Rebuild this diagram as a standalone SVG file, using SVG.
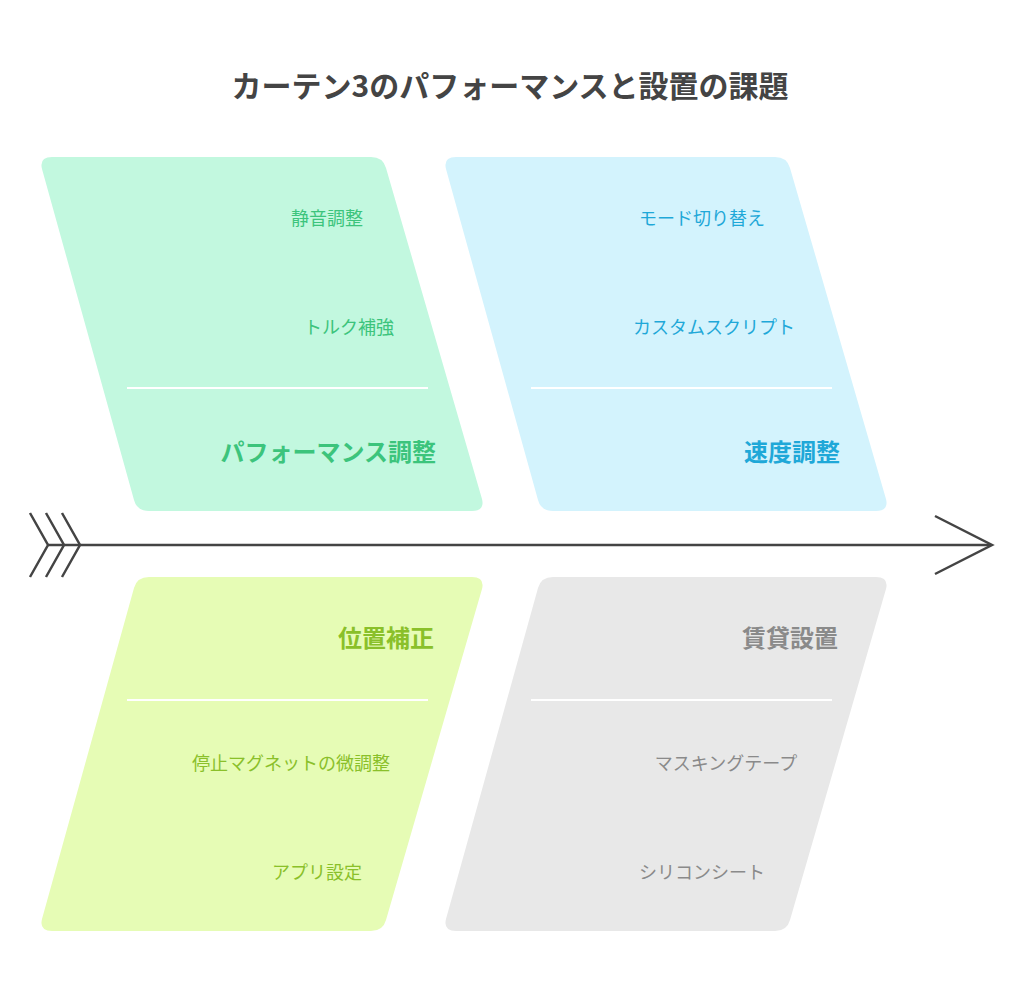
<svg xmlns="http://www.w3.org/2000/svg" width="1024" height="996" viewBox="0 0 1024 996">
<style>
text{font-family:"Noto Sans CJK JP","Noto Sans",sans-serif}
.t{font-size:30px;font-weight:bold;fill:#444}
.it{font-size:18px;text-anchor:middle}
.cat{font-size:24px;font-weight:bold;text-anchor:end}
.div{stroke:#fff;stroke-width:2}
.ln{stroke:#444;stroke-width:2.5;fill:none}
</style>
<rect width="1024" height="996" fill="#fff"/>
<text class="t" x="510" y="97" text-anchor="middle">カーテン3のパフォーマンスと設置の課題</text>
<g id="performance">
<path d="M52,157 H371 Q383,157 386,168 L482,499 Q485,511 472,511 H149 Q137,511 134,500 L42,169 Q39,157 52,157Z" fill="#c2f8df"/>
<line class="div" x1="127" y1="388" x2="428" y2="388"/>
<text class="it" x="327" y="225" fill="#3cc47c">静音調整</text>
<text class="it" x="349" y="334" fill="#3cc47c">トルク補強</text>
<text class="cat" x="436" y="461" fill="#3cc47c">パフォーマンス調整</text>
</g>
<g id="speed">
<path d="M456,157 H775 Q787,157 790,168 L886,499 Q889,511 876,511 H553 Q541,511 538,500 L446,169 Q443,157 456,157Z" fill="#d3f3fd"/>
<line class="div" x1="531" y1="388" x2="832" y2="388"/>
<text class="it" x="702" y="225" fill="#1fa8d8">モード切り替え</text>
<text class="it" x="714" y="334" fill="#1fa8d8">カスタムスクリプト</text>
<text class="cat" x="840" y="461" fill="#1fa8d8">速度調整</text>
</g>
<g id="position">
<path d="M149,577 H472 Q485,577 482,589 L386,920 Q383,931 371,931 H52 Q39,931 42,919 L134,588 Q137,577 149,577Z" fill="#e6fcb5"/>
<line class="div" x1="127" y1="700" x2="428" y2="700"/>
<text class="cat" x="434" y="647" fill="#8ac02a">位置補正</text>
<text class="it" x="291" y="770" fill="#8ac02a">停止マグネットの微調整</text>
<text class="it" x="317" y="879" fill="#8ac02a">アプリ設定</text>
</g>
<g id="rental">
<path d="M553,577 H876 Q889,577 886,589 L790,920 Q787,931 775,931 H456 Q443,931 446,919 L538,588 Q541,577 553,577Z" fill="#e8e8e8"/>
<line class="div" x1="531" y1="700" x2="832" y2="700"/>
<text class="cat" x="838" y="647" fill="#8a8a8a">賃貸設置</text>
<text class="it" x="726" y="770" fill="#8a8a8a">マスキングテープ</text>
<text class="it" x="702" y="879" fill="#8a8a8a">シリコンシート</text>
</g>
<g id="connectors">
<line class="ln" x1="48" y1="545" x2="990" y2="545"/>
<path class="ln" d="M935,516 L992,545 L935,574"/>
<path class="ln" d="M30,513 L48,545 L30,577 M46,513 L64,545 L46,577 M62,513 L80,545 L62,577"/>
</g>
</svg>
